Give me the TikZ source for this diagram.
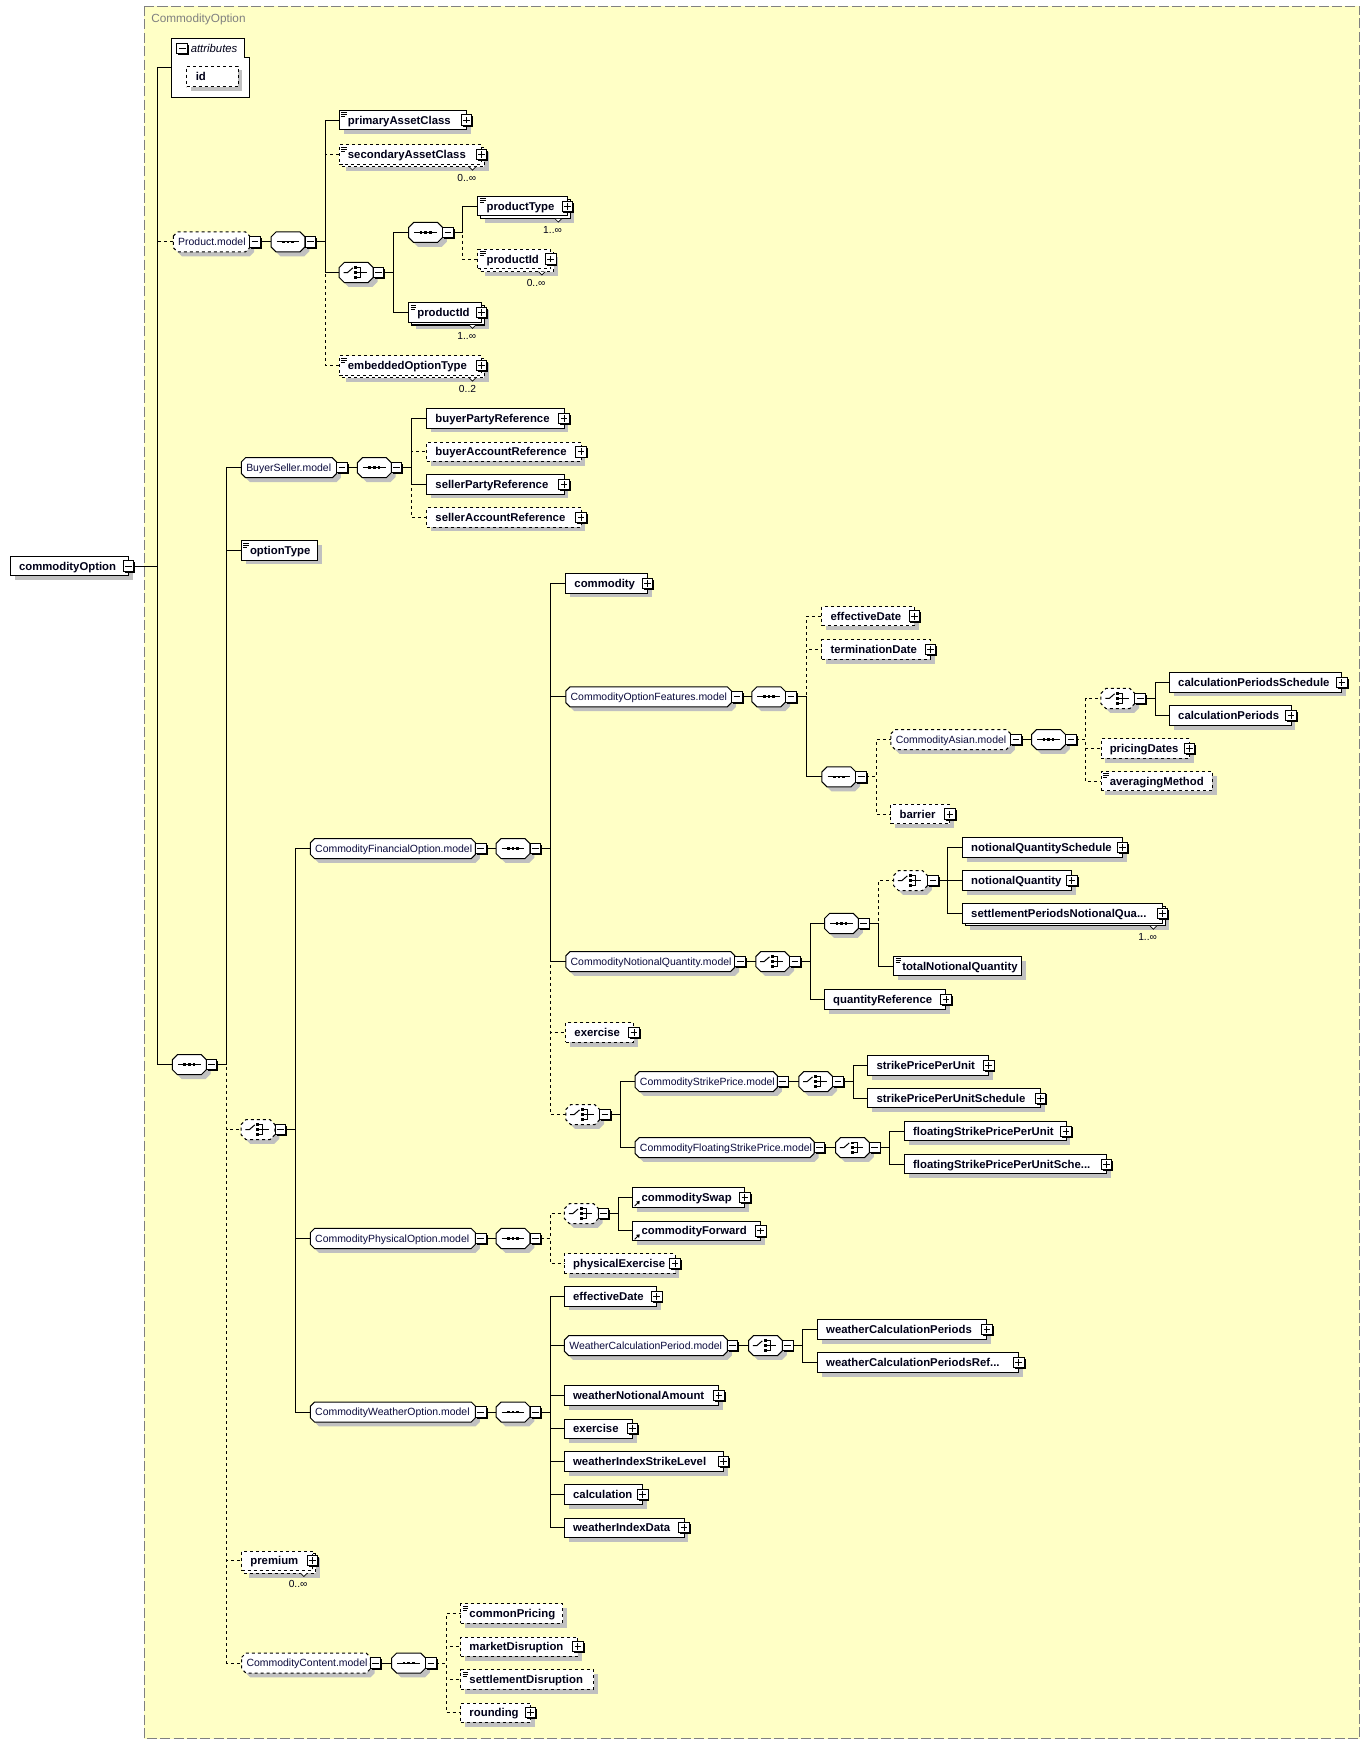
\documentclass[tikz,border=0pt]{standalone}
\usepackage{fontspec}
\setmainfont{Liberation Sans}
\definecolor{bgc}{RGB}{255,255,198}
\definecolor{shadowc}{RGB}{192,192,192}
\definecolor{framec}{RGB}{128,128,128}
\definecolor{eltc}{RGB}{0,0,24}
\definecolor{modc}{RGB}{10,10,60}
\tikzset{
  every node/.style={outer sep=0pt},
  elbox/.style={draw=black, fill=white, line width=0.9pt, minimum height=17.4pt, inner sep=0pt},
  eltext/.style={inner sep=0pt, font=\fontsize{10.2}{12}\selectfont\bfseries, text=eltc},
  modtext/.style={inner sep=0pt, font=\fontsize{9.4}{11}\selectfont, text=modc},
  occ/.style={inner sep=0pt, font=\fontsize{9.2}{11}\selectfont, text=eltc},
  conn/.style={line width=0.9pt, draw=black},
  optl/.style={dash pattern=on 2.7pt off 2.7pt},
  pmbox/.style={draw=black, fill=white, line width=0.9pt, minimum size=9.4pt, inner sep=0pt},
}
\newcommand{\XSoct}[6]{%
  \path[#1] ({#2},{#4-#6+#5}) -- ({#2+#5},{#4-#6}) -- ({#3-#5},{#4-#6}) -- ({#3},{#4-#6+#5})
    -- ({#3},{#4+#6-#5}) -- ({#3-#5},{#4+#6}) -- ({#2+#5},{#4+#6}) -- ({#2},{#4+#6-#5}) -- cycle;}
\newcommand{\XSpm}[4]{%
  \fill[black] ({#2-4.7+1.3},{#3-4.7+1.3}) rectangle ({#2+4.7+1.3},{#3+4.7+1.3});
  \node[pmbox] (#1) at ({#2},{#3}) {};
  \draw[line width=0.8pt] ({#2-3},{#3}) -- ({#2+3},{#3});
  \ifnum#4=1 \draw[line width=0.8pt] ({#2},{#3-3}) -- ({#2},{#3+3});\fi}
\newcommand{\XSel}[7]{%
  \fill[shadowc] ({#2+3.9},{#4-8.7+3.9}) rectangle ({#3+3.9},{#4+8.7+3.9});
  \node[elbox,#5,minimum width={(#3-(#2))*1pt},anchor=west] (#1) at ({#2},{#4}) {};
  \node[eltext,anchor=base west] (#1t) at ({#2+7.8},{#4+3.6}) {#6};
  \ifnum#7=1 \XSpm{#1p}{#3}{#4}{1}\fi}
\newcommand{\XSmul}[7]{%
  \fill[shadowc] ({#2+2.5+3.9},{#4-8.7+2.5+3.9}) rectangle ({#3+2.5+3.9},{#4+8.7+2.5+3.9});
  \node[elbox,#5,minimum width={(#3-(#2))*1pt},anchor=west] (#1b) at ({#2+2.5},{#4+2.5}) {};
  \filldraw[fill=white,line width=0.6pt] ({#3-11},{#4+11.2}) -- ({#3-8},{#4+14.2}) -- ({#3-5},{#4+11.2});
  \node[elbox,#5,minimum width={(#3-(#2))*1pt},anchor=west] (#1) at ({#2},{#4}) {};
  \node[eltext,anchor=base west] (#1t) at ({#2+7.8},{#4+3.6}) {#6};
  \XSpm{#1p}{#3}{#4}{1}
  \node[occ,anchor=base east] (#1o) at ({#3-4.8},{#4+24.3}) {#7};}
\newcommand{\XSmod}[6]{%
  \XSoct{fill=shadowc}{#2+3.9}{#3+3.9}{#4+3.9}{3.8}{9}
  \XSoct{draw=black,fill=white,line width=0.9pt,#5}{#2}{#3}{#4}{3.8}{9}
  \node[inner sep=0pt,minimum width={(#3-(#2))*1pt},minimum height=18pt,anchor=west] (#1) at ({#2},{#4}) {};
  \node[modtext,anchor=base west] (#1t) at ({#2+4.4},{#4+3.4}) {#6};
  \XSpm{#1m}{#3+4.8}{#4}{0}}
\newcommand{\XScompbase}[4]{%
  \XSoct{fill=shadowc}{#2+3.9}{#2+30.5+3.9}{#3+3.9}{4.5}{9}
  \XSoct{draw=black,fill=white,line width=0.9pt,#4}{#2}{#2+30.5}{#3}{4.5}{9}
  \node[inner sep=0pt,minimum width=30.5pt,minimum height=18pt,anchor=west] (#1) at ({#2},{#3}) {};
  \XSpm{#1m}{#2+35.3}{#3}{0}}
\newcommand{\XSseq}[4]{\XScompbase{#1}{#2}{#3}{#4}
  \draw[line width=0.8pt] ({#2+5},{#3}) -- ({#2+25.5},{#3});
  \fill ({#2+15.25-4.1-1.2},{#3-1.2}) rectangle ({#2+15.25-4.1+1.2},{#3+1.2});
  \fill ({#2+15.25-1.2},{#3-1.2}) rectangle ({#2+15.25+1.2},{#3+1.2});
  \fill ({#2+15.25+4.1-1.2},{#3-1.2}) rectangle ({#2+15.25+4.1+1.2},{#3+1.2});}
\newcommand{\XSchoice}[4]{\XScompbase{#1}{#2}{#3}{#4}
  \draw[line width=0.9pt] ({#2+3.9},{#3}) -- ({#2+7.5},{#3}) -- ({#2+12.3},{#3-4.2});
  \fill ({#2+15-1.3},{#3-4.2-1.3}) rectangle ({#2+15+1.3},{#3-4.2+1.3});
  \fill ({#2+15-1.3},{#3-1.3}) rectangle ({#2+15+1.3},{#3+1.3});
  \fill ({#2+15-1.3},{#3+4.2-1.3}) rectangle ({#2+15+1.3},{#3+4.2+1.3});
  \draw[line width=0.9pt] ({#2+16.2},{#3-4.2}) -- ({#2+19.5},{#3-4.2}) -- ({#2+19.5},{#3+4.2}) -- ({#2+16.2},{#3+4.2})
    ({#2+16.2},{#3}) -- ({#2+24.9},{#3});}
\newcommand{\XSicon}[2]{%
  \draw[line width=0.7pt] ({#1+1.8},{#2-8.7+2}) -- ++(5,0) ({#1+1.8},{#2-8.7+3.8}) -- ++(5,0) ({#1+1.8},{#2-8.7+5.6}) -- ++(3.6,0);}
\newcommand{\XSref}[2]{%
  \draw[line width=0.8pt] ({#1+1.6},{#2+7.6}) -- ({#1+4.8},{#2+4.4});
  \fill ({#1+6.2},{#2+3}) -- ({#1+2.9},{#2+3.6}) -- ({#1+5.6},{#2+6.3}) -- cycle;}
\newcommand{\XSc}[4][8.8]{\draw[conn,#2] (#3.east) -- ++(#1,0) |- (#4.west);}
\newcommand{\XSl}[2]{\draw[conn] (#1.east) -- (#2.west);}
\begin{document}
\begin{tikzpicture}[x=1pt,y=-1pt]
\useasboundingbox (0,0) rectangle (1231.7,1568);
\fill[white] (0,0) rectangle (1231.7,1568);
\fill[bgc] (129.8,5.5) rectangle (1222.5,1563.2);
\draw[framec,line width=0.9pt,dash pattern=on 9pt off 3pt] (129.8,5.5) rectangle (1222.5,1563.2);
\node[anchor=base west,inner sep=0pt,font=\fontsize{10.6}{12}\selectfont,text=framec] (title) at (136,20.6) {CommodityOption};
% root
\XSel{root}{9.3}{115.7}{509}{solid}{commodityOption}{0}
\XSpm{rootm}{115.7}{509}{0}
% attributes
\node[inner sep=0pt,minimum width=70pt,minimum height=53pt,anchor=west] (attr) at (154,61) {};
\filldraw[fill=white,line width=0.9pt] (154,34.5) -- (220,34.5) -- (220,51.6) -- (224,51.6) -- (224,87.5) -- (154,87.5) -- cycle;
\XSpm{attrm}{163.8}{43.5}{0}
\node[anchor=base west,inner sep=0pt,font=\fontsize{10.2}{12}\selectfont\itshape,text=eltc] (attrt) at (171.5,46.9) {attributes};
\fill[shadowc] (167.8+3.9,59.4+3.9) rectangle (214+3.9,78+3.9);
\node[elbox,optl,minimum width=46.2pt,minimum height=18.6pt,anchor=west] (aid) at (167.8,68.7) {};
\node[eltext,anchor=base west] (aidt) at (176,72.3) {id};
% Product.model
\XSmod{pmod}{155.8}{224.5}{217.5}{optl}{Product.model}
\XSseq{cPa}{243.7}{217.5}{solid}
\XSel{ePAC}{305}{419.5}{108}{solid}{primaryAssetClass}{1}\XSicon{305}{108}
\XSmul{eSAC}{305}{432.8}{138.8}{optl}{secondaryAssetClass}{0..∞}\XSicon{305}{138.8}
\XSchoice{cPb}{305}{245}{solid}
\XSseq{cPc}{367.4}{209}{solid}
\XSmul{ePT}{429.7}{510}{185.5}{solid}{productType}{1..∞}\XSicon{429.7}{185.5}
\XSmul{ePIa}{429.7}{495.2}{233}{optl}{productId}{0..∞}\XSicon{429.7}{233}
\XSmul{ePIb}{367.4}{432.8}{281}{solid}{productId}{1..∞}\XSicon{367.4}{281}
\XSmul{eEOT}{305}{432.8}{328.5}{optl}{embeddedOptionType}{0..2}\XSicon{305}{328.5}
% main sequence
\XSseq{cMain}{155}{957.2}{solid}
% BuyerSeller
\XSmod{mBS}{217}{302.6}{420.5}{solid}{BuyerSeller.model}
\XSseq{cBS}{321.3}{420.5}{solid}
\XSel{eBPR}{383.7}{507.2}{376.2}{solid}{buyerPartyReference}{1}
\XSel{eBAR}{383.7}{522.5}{406.2}{optl}{buyerAccountReference}{1}
\XSel{eSPR}{383.7}{507.2}{435.5}{solid}{sellerPartyReference}{1}
\XSel{eSAR}{383.7}{522.5}{465.2}{optl}{sellerAccountReference}{1}
\XSel{eOT}{217}{285.7}{494.9}{solid}{optionType}{0}\XSicon{217}{494.9}
% main choice
\XSchoice{cCh}{216.7}{1015.6}{optl}
% Financial
\XSmod{mFin}{279}{427.5}{762.9}{solid}{CommodityFinancialOption.model}
\XSseq{cFin}{446}{762.9}{solid}
\XSel{eCom}{508.7}{582}{524.5}{solid}{commodity}{1}
\XSmod{mFeat}{508.7}{657.7}{626.5}{solid}{CommodityOptionFeatures.model}
\XSseq{cFeat}{676}{626.5}{solid}
\XSel{eED}{739}{822}{554}{optl}{effectiveDate}{1}
\XSel{eTD}{739}{836.4}{584}{optl}{terminationDate}{1}
\XSseq{cInner}{739}{698.5}{solid}
\XSmod{mAsian}{801}{908.6}{664.9}{optl}{CommodityAsian.model}
\XSseq{cAsian}{927.5}{664.9}{solid}
\XSchoice{cCalc}{989.8}{628}{optl}
\XSel{eCPS}{1051.5}{1206.5}{613.6}{solid}{calculationPeriodsSchedule}{1}
\XSel{eCP}{1051.5}{1160.7}{643.3}{solid}{calculationPeriods}{1}
\XSel{ePD}{990}{1069.6}{673}{optl}{pricingDates}{1}
\XSel{eAM}{990}{1090}{702.4}{optl}{averagingMethod}{0}\XSicon{990}{702.4}
\XSel{eBar}{801}{854}{732}{optl}{barrier}{1}
\XSmod{mNQ}{508.7}{660.7}{864.5}{solid}{CommodityNotionalQuantity.model}
\XSchoice{cNQ}{679.5}{864.5}{solid}
\XSseq{cNQb}{741.3}{830.3}{solid}
\XSchoice{cNQc}{803.4}{791.7}{optl}
\XSel{eNQS}{865.4}{1009.3}{762}{solid}{notionalQuantitySchedule}{1}
\XSel{eNQ}{865.4}{963.7}{791.7}{solid}{notionalQuantity}{1}
\XSmul{eSPNQ}{865.4}{1045}{821.3}{solid}{settlementPeriodsNotionalQua...}{1..∞}
\XSel{eTNQ}{803.4}{918.5}{868.7}{solid}{totalNotionalQuantity}{0}\XSicon{803.4}{868.7}
\XSel{eQR}{741.3}{850.5}{898.7}{solid}{quantityReference}{1}
\XSel{eEx}{508.7}{570}{928.4}{optl}{exercise}{1}
\XSchoice{cStr}{508.7}{1002.1}{optl}
\XSmod{mSP}{571}{699}{972.4}{solid}{CommodityStrikePrice.model}
\XSchoice{cSP}{718.2}{972.4}{solid}
\XSel{eSPU}{780.3}{889}{958}{solid}{strikePricePerUnit}{1}
\XSel{eSPUS}{780.3}{935.6}{987.4}{solid}{strikePricePerUnitSchedule}{1}
\XSmod{mFSP}{571}{732}{1031.8}{solid}{CommodityFloatingStrikePrice.model}
\XSchoice{cFSP}{751.2}{1031.8}{solid}
\XSel{eFSPU}{813.2}{958.5}{1017.1}{solid}{floatingStrikePricePerUnit}{1}
\XSel{eFSPUS}{813.2}{995}{1046.8}{solid}{floatingStrikePricePerUnitSche...}{1}
% Physical
\XSmod{mPhys}{279}{427.5}{1113.5}{solid}{CommodityPhysicalOption.model}
\XSseq{cPhys}{446}{1113.5}{solid}
\XSchoice{cPhysb}{507.5}{1091.1}{optl}
\XSel{eCS}{569}{669.7}{1076.7}{solid}{commoditySwap}{1}\XSref{569}{1076.7}
\XSel{eCF}{569}{684}{1106.7}{solid}{commodityForward}{1}\XSref{569}{1106.7}
\XSel{ePE}{507.5}{607}{1136}{optl}{physicalExercise}{1}
% Weather
\XSmod{mW}{279}{427.5}{1269.5}{solid}{CommodityWeatherOption.model}
\XSseq{cW}{446}{1269.5}{solid}
\XSel{eWED}{507.5}{590.5}{1165.5}{solid}{effectiveDate}{1}
\XSmod{mWCP}{507.5}{654}{1209.8}{solid}{WeatherCalculationPeriod.model}
\XSchoice{cWCP}{673}{1209.8}{solid}
\XSel{eWCPs}{735}{887.3}{1195.4}{solid}{weatherCalculationPeriods}{1}
\XSel{eWCPR}{735}{916}{1225.1}{solid}{weatherCalculationPeriodsRef...}{1}
\XSel{eWNA}{507.5}{646.3}{1254.8}{solid}{weatherNotionalAmount}{1}
\XSel{eWEx}{507.5}{568.9}{1284.5}{solid}{exercise}{1}
\XSel{eWISL}{507.5}{650.5}{1314.1}{solid}{weatherIndexStrikeLevel}{1}
\XSel{eWCalc}{507.5}{577.9}{1343.8}{solid}{calculation}{1}
\XSel{eWID}{507.5}{615.1}{1373.5}{solid}{weatherIndexData}{1}
% premium
\XSmul{ePrem}{217.3}{281.2}{1403.2}{optl}{premium}{0..∞}
% CommodityContent
\XSmod{mCC}{217.3}{333}{1495.2}{optl}{CommodityContent.model}
\XSseq{cCC}{352.2}{1495.2}{solid}
\XSel{eCPr}{414.3}{506}{1450.8}{optl}{commonPricing}{0}\XSicon{414.3}{1450.8}
\XSel{eMD}{414.3}{519.6}{1480.5}{optl}{marketDisruption}{1}
\XSel{eSD}{414.3}{533.8}{1510}{optl}{settlementDisruption}{0}\XSicon{414.3}{1510}
\XSel{eRnd}{414.3}{477.2}{1539.9}{optl}{rounding}{1}
% ---------- connectors: optional first ----------
\XSc[21.1]{optl}{rootm}{pmod}
\XSc{optl}{cPam}{eSAC}
\XSc{optl}{cPam}{eEOT}
\XSc{optl}{cPcm}{ePIa}
\XSc{optl}{cMainm}{cCh}
\XSc{optl}{cMainm}{ePrem}
\XSc{optl}{cMainm}{mCC}
\XSc{optl}{cBSm}{eBAR}
\XSc{optl}{cBSm}{eSAR}
\XSc{optl}{cFinm}{eEx}
\XSc{optl}{cFinm}{cStr}
\XSc{optl}{cFeatm}{eED}
\XSc{optl}{cFeatm}{eTD}
\XSc{optl}{cInnerm}{mAsian}
\XSc{optl}{cInnerm}{eBar}
\XSc{optl}{cAsianm}{cCalc}
\XSc{optl}{cAsianm}{ePD}
\XSc{optl}{cAsianm}{eAM}
\XSc{optl}{cNQbm}{cNQc}
\XSc{optl}{cPhysm}{cPhysb}
\XSc{optl}{cPhysm}{ePE}
\XSc{optl}{cCCm}{eCPr}
\XSc{optl}{cCCm}{eMD}
\XSc{optl}{cCCm}{eSD}
\XSc{optl}{cCCm}{eRnd}
% ---------- required ----------
\XSc[21.1]{solid}{rootm}{attr}
\XSc[21.1]{solid}{rootm}{cMain}
\XSl{pmodm}{cPa}
\XSc{solid}{cPam}{ePAC}
\XSc{solid}{cPam}{cPb}
\XSc{solid}{cPbm}{cPc}
\XSc{solid}{cPbm}{ePIb}
\XSc{solid}{cPcm}{ePT}
\XSc{solid}{cMainm}{mBS}
\XSc{solid}{cMainm}{eOT}
\XSl{mBSm}{cBS}
\XSc{solid}{cBSm}{eBPR}
\XSc{solid}{cBSm}{eSPR}
\XSc{solid}{cChm}{mFin}
\XSc{solid}{cChm}{mPhys}
\XSc{solid}{cChm}{mW}
\XSl{mFinm}{cFin}
\XSc{solid}{cFinm}{eCom}
\XSc{solid}{cFinm}{mFeat}
\XSc{solid}{cFinm}{mNQ}
\XSl{mFeatm}{cFeat}
\XSc{solid}{cFeatm}{cInner}
\XSl{mAsianm}{cAsian}
\XSc{solid}{cCalcm}{eCPS}
\XSc{solid}{cCalcm}{eCP}
\XSl{mNQm}{cNQ}
\XSc{solid}{cNQm}{cNQb}
\XSc{solid}{cNQm}{eQR}
\XSc{solid}{cNQbm}{eTNQ}
\XSc{solid}{cNQcm}{eNQS}
\XSc{solid}{cNQcm}{eNQ}
\XSc{solid}{cNQcm}{eSPNQ}
\XSc{solid}{cStrm}{mSP}
\XSc{solid}{cStrm}{mFSP}
\XSl{mSPm}{cSP}
\XSc{solid}{cSPm}{eSPU}
\XSc{solid}{cSPm}{eSPUS}
\XSl{mFSPm}{cFSP}
\XSc{solid}{cFSPm}{eFSPU}
\XSc{solid}{cFSPm}{eFSPUS}
\XSl{mPhysm}{cPhys}
\XSc{solid}{cPhysbm}{eCS}
\XSc{solid}{cPhysbm}{eCF}
\XSl{mWm}{cW}
\XSc{solid}{cWm}{eWED}
\XSc{solid}{cWm}{mWCP}
\XSc{solid}{cWm}{eWNA}
\XSc{solid}{cWm}{eWEx}
\XSc{solid}{cWm}{eWISL}
\XSc{solid}{cWm}{eWCalc}
\XSc{solid}{cWm}{eWID}
\XSl{mWCPm}{cWCP}
\XSc{solid}{cWCPm}{eWCPs}
\XSc{solid}{cWCPm}{eWCPR}
\XSl{mCCm}{cCC}
\end{tikzpicture}
\end{document}
